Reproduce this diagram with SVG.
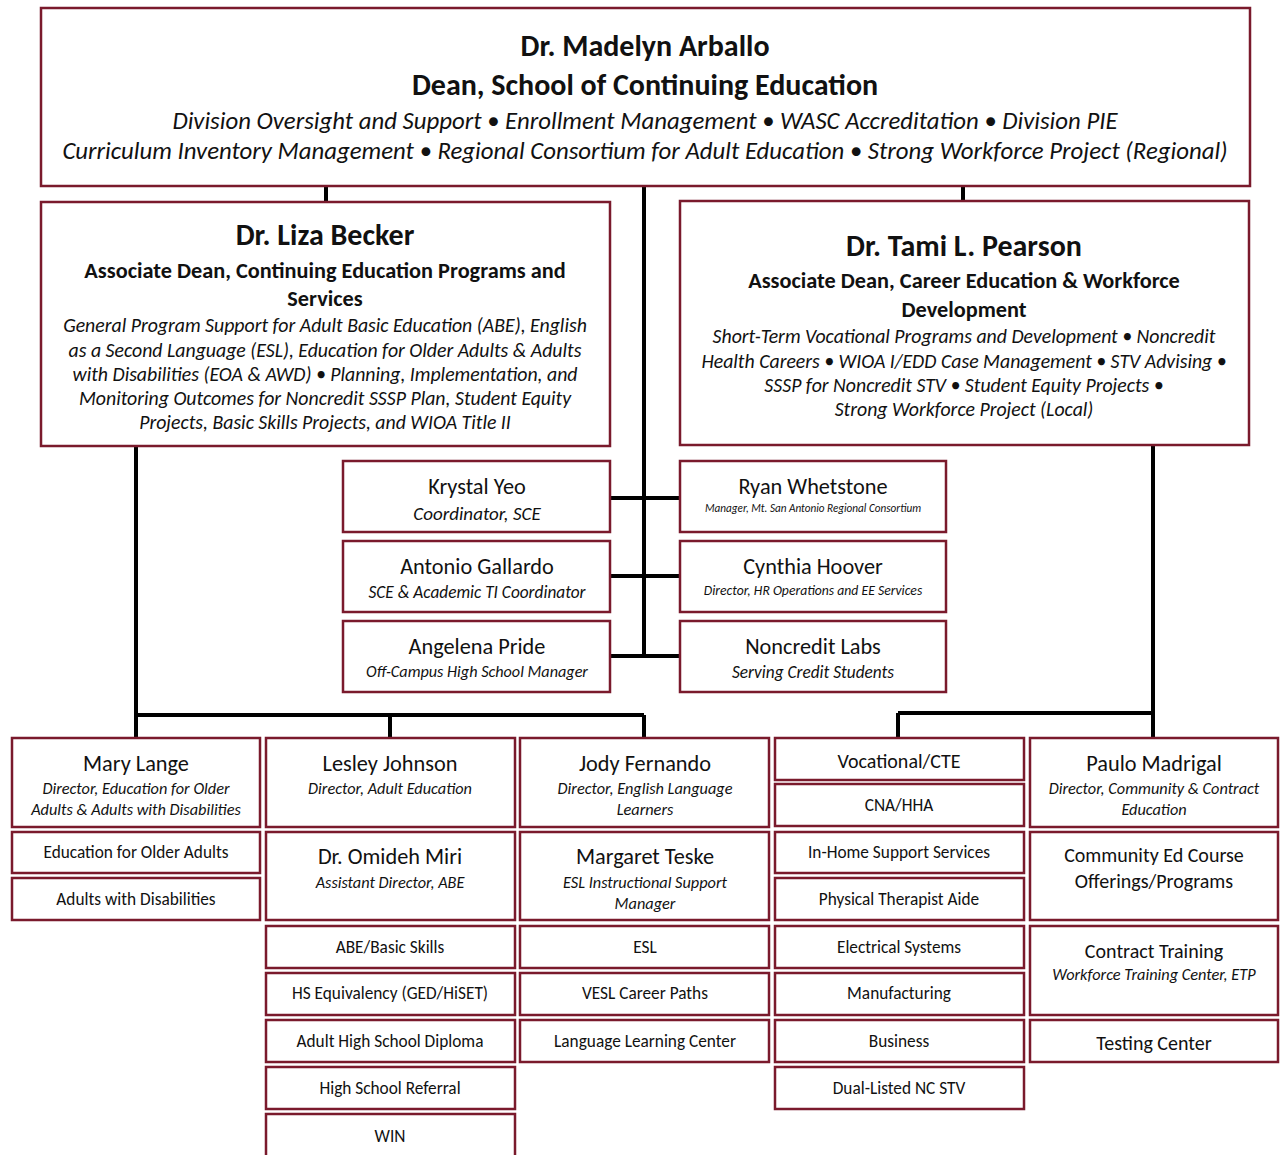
<svg xmlns="http://www.w3.org/2000/svg" width="1280" height="1155" viewBox="0 0 1280 1155">
<style>
text{font-family:Carlito,"Open Sans","Liberation Sans",sans-serif;fill:#111;text-anchor:middle}
.b{fill:#fff;stroke:#7a1a2c;stroke-width:2.5}
.c{stroke:#000;stroke-width:4;fill:none}
.t1{font-size:30px;font-weight:bold}
.t2{font-size:22.3px;font-weight:bold}
.ai{font-size:19.8px;font-style:italic}
.it{font-style:italic}
.n{font-size:22.3px}
.s{font-size:17.3px}
.si{font-size:16.3px;font-style:italic}
.m{font-size:20px}
</style>
<rect width="1280" height="1155" fill="#fff"/>
<g id="connectors">
<path class="c" d="M326,186V202M644,186V656M963,186V201M610,498H680M610,576H680M610,656H680"/>
<path class="c" d="M136,446V737M136,715H644M390,715V737M644,715V737"/>
<path class="c" d="M1153,445V737M898,713H1153M898,713V737"/>
</g>
<g id="dean">
<rect class="b" x="41" y="8" width="1209" height="178"/>
<text class="t1" x="645" y="56">Dr. Madelyn Arballo</text>
<text class="t1" x="645" y="95">Dean, School of Continuing Education</text>
<text class="it" x="645" y="129" font-size="24.8">Division Oversight and Support • Enrollment Management • WASC Accreditation • Division PIE</text>
<text class="it" x="645" y="159" font-size="24.8">Curriculum Inventory Management • Regional Consortium for Adult Education • Strong Workforce Project (Regional)</text>
</g>
<g id="becker">
<rect class="b" x="41" y="202" width="569" height="244"/>
<text class="t1" x="325" y="245">Dr. Liza Becker</text>
<text class="t2" x="325" y="278">Associate Dean, Continuing Education Programs and</text>
<text class="t2" x="325" y="306">Services</text>
<text class="ai" x="325" y="332">General Program Support for Adult Basic Education (ABE), English</text>
<text class="ai" x="325" y="357">as a Second Language (ESL), Education for Older Adults &amp; Adults</text>
<text class="ai" x="325" y="381">with Disabilities (EOA &amp; AWD) • Planning, Implementation, and</text>
<text class="ai" x="325" y="405">Monitoring Outcomes for Noncredit SSSP Plan, Student Equity</text>
<text class="ai" x="325" y="429">Projects, Basic Skills Projects, and WIOA Title II</text>
</g>
<g id="pearson">
<rect class="b" x="680" y="201" width="569" height="244"/>
<text class="t1" x="964" y="256">Dr. Tami L. Pearson</text>
<text class="t2" x="964" y="288">Associate Dean, Career Education &amp; Workforce</text>
<text class="t2" x="964" y="317">Development</text>
<text class="ai" x="964" y="343">Short-Term Vocational Programs and Development • Noncredit</text>
<text class="ai" x="964" y="368">Health Careers • WIOA I/EDD Case Management • STV Advising •</text>
<text class="ai" x="964" y="392">SSSP for Noncredit STV • Student Equity Projects •</text>
<text class="ai" x="964" y="416">Strong Workforce Project (Local)</text>
</g>
<g id="yeo"><rect class="b" x="343" y="461" width="267" height="71"/><text class="n" x="477" y="494">Krystal Yeo</text><text class="it" font-size="19" x="477" y="520">Coordinator, SCE</text></g>
<g id="gallardo"><rect class="b" x="343" y="541" width="267" height="71"/><text class="n" x="477" y="574">Antonio Gallardo</text><text class="it" font-size="17.3" x="477" y="598">SCE &amp; Academic TI Coordinator</text></g>
<g id="pride"><rect class="b" x="343" y="621" width="267" height="71"/><text class="n" x="477" y="654">Angelena Pride</text><text class="it" font-size="16.2" x="477" y="677">Off-Campus High School Manager</text></g>
<g id="whetstone"><rect class="b" x="680" y="461" width="266" height="71"/><text class="n" x="813" y="494">Ryan Whetstone</text><text class="it" font-size="11.2" x="813" y="512">Manager, Mt. San Antonio Regional Consortium</text></g>
<g id="hoover"><rect class="b" x="680" y="541" width="266" height="71"/><text class="n" x="813" y="574">Cynthia Hoover</text><text class="it" font-size="13.7" x="813" y="595">Director, HR Operations and EE Services</text></g>
<g id="labs"><rect class="b" x="680" y="621" width="266" height="71"/><text class="n" x="813" y="654">Noncredit Labs</text><text class="it" font-size="17.3" x="813" y="678">Serving Credit Students</text></g>

<g id="lange"><rect class="b" x="12" y="738" width="248" height="89"/><text class="n" x="136" y="771">Mary Lange</text><text class="si" x="136" y="794">Director, Education for Older</text><text class="si" x="136" y="815">Adults &amp; Adults with Disabilities</text></g>
<g id="eoa"><rect class="b" x="12" y="832" width="248" height="41"/><text class="s" x="136" y="858">Education for Older Adults</text></g>
<g id="awd"><rect class="b" x="12" y="878" width="248" height="42"/><text class="s" x="136" y="905">Adults with Disabilities</text></g>

<g id="johnson"><rect class="b" x="266" y="738" width="249" height="89"/><text class="n" x="390" y="771">Lesley Johnson</text><text class="si" x="390" y="794">Director, Adult Education</text></g>
<g id="miri"><rect class="b" x="266" y="832" width="249" height="88"/><text class="n" x="390" y="864">Dr. Omideh Miri</text><text class="si" x="390" y="888">Assistant Director, ABE</text></g>
<g id="abe"><rect class="b" x="266" y="926" width="249" height="42"/><text class="s" x="390" y="953">ABE/Basic Skills</text></g>
<g id="hse"><rect class="b" x="266" y="973" width="249" height="42"/><text class="s" x="390" y="999">HS Equivalency (GED/HiSET)</text></g>
<g id="ahsd"><rect class="b" x="266" y="1020" width="249" height="42"/><text class="s" x="390" y="1047">Adult High School Diploma</text></g>
<g id="hsr"><rect class="b" x="266" y="1067" width="249" height="42"/><text class="s" x="390" y="1094">High School Referral</text></g>
<g id="win"><rect class="b" x="266" y="1114" width="249" height="50"/><text class="s" x="390" y="1142">WIN</text></g>

<g id="fernando"><rect class="b" x="520" y="738" width="249" height="89"/><text class="n" x="645" y="771">Jody Fernando</text><text class="si" x="645" y="794">Director, English Language</text><text class="si" x="645" y="815">Learners</text></g>
<g id="teske"><rect class="b" x="520" y="832" width="249" height="88"/><text class="n" x="645" y="864">Margaret Teske</text><text class="si" x="645" y="888">ESL Instructional Support</text><text class="si" x="645" y="909">Manager</text></g>
<g id="esl"><rect class="b" x="520" y="926" width="249" height="42"/><text class="s" x="645" y="953">ESL</text></g>
<g id="vesl"><rect class="b" x="520" y="973" width="249" height="42"/><text class="s" x="645" y="999">VESL Career Paths</text></g>
<g id="llc"><rect class="b" x="520" y="1020" width="249" height="42"/><text class="s" x="645" y="1047">Language Learning Center</text></g>

<g id="cte"><rect class="b" x="775" y="738" width="249" height="42"/><text class="m" x="899" y="768" font-size="21.3">Vocational/CTE</text></g>
<g id="cna"><rect class="b" x="775" y="784" width="249" height="42"/><text class="s" x="899" y="811">CNA/HHA</text></g>
<g id="ihss"><rect class="b" x="775" y="832" width="249" height="41"/><text class="s" x="899" y="858">In-Home Support Services</text></g>
<g id="pta"><rect class="b" x="775" y="878" width="249" height="42"/><text class="s" x="899" y="905">Physical Therapist Aide</text></g>
<g id="elec"><rect class="b" x="775" y="926" width="249" height="42"/><text class="s" x="899" y="953">Electrical Systems</text></g>
<g id="mfg"><rect class="b" x="775" y="973" width="249" height="42"/><text class="s" x="899" y="999">Manufacturing</text></g>
<g id="bus"><rect class="b" x="775" y="1020" width="249" height="42"/><text class="s" x="899" y="1047">Business</text></g>
<g id="dual"><rect class="b" x="775" y="1067" width="249" height="42"/><text class="s" x="899" y="1094">Dual-Listed NC STV</text></g>

<g id="madrigal"><rect class="b" x="1030" y="738" width="248" height="89"/><text class="n" x="1154" y="771">Paulo Madrigal</text><text class="si" x="1154" y="794">Director, Community &amp; Contract</text><text class="si" x="1154" y="815">Education</text></g>
<g id="commed"><rect class="b" x="1030" y="832" width="248" height="88"/><text class="m" x="1154" y="862">Community Ed Course</text><text class="m" x="1154" y="888">Offerings/Programs</text></g>
<g id="contract"><rect class="b" x="1030" y="926" width="248" height="89"/><text class="m" x="1154" y="958">Contract Training</text><text class="si" x="1154" y="980">Workforce Training Center, ETP</text></g>
<g id="testing"><rect class="b" x="1030" y="1020" width="248" height="42"/><text class="m" x="1154" y="1050">Testing Center</text></g>
</svg>
